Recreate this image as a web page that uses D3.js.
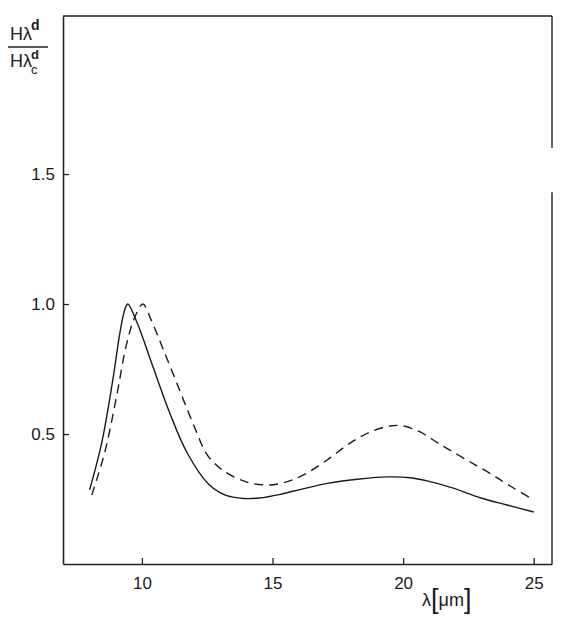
<!DOCTYPE html>
<html>
<head>
<meta charset="utf-8">
<script src="https://cdn.jsdelivr.net/npm/d3@7"></script>
<style>
  body { margin: 0; background: #fff; }
  text { font-family: "Liberation Sans", Arial, sans-serif; fill: #1a1a1a; }
</style>
</head>
<body>
<svg width="570" height="623"></svg>
<script>
var svg = d3.select('svg');

// solid curve
var solidX = [8.0, 8.47, 8.89, 9.16, 9.35, 9.46, 9.81, 10.42, 11.07, 11.72, 12.53, 13.2, 13.9, 14.5, 15.3, 16.2, 17.1, 18.35, 19.4, 20.27, 20.92, 21.92, 22.95, 23.98, 25.0];
var solidY = [0.285, 0.47, 0.71, 0.89, 0.98, 1.0, 0.93, 0.76, 0.58, 0.43, 0.31, 0.265, 0.252, 0.254, 0.268, 0.29, 0.31, 0.327, 0.335, 0.332, 0.32, 0.292, 0.255, 0.227, 0.2];
// dashed curve
var dashX = [8.08, 8.58, 9.04, 9.4, 9.73, 10.04, 10.35, 10.8, 11.4, 12.0, 12.5, 13.1, 14.02, 14.79, 15.4, 16.17, 17.09, 17.97, 18.74, 19.5, 20.0, 20.65, 21.42, 22.3, 23.22, 24.1, 25.0];
var dashY = [0.265, 0.43, 0.65, 0.84, 0.95, 1.0, 0.94, 0.83, 0.68, 0.53, 0.42, 0.36, 0.315, 0.304, 0.312, 0.342, 0.40, 0.465, 0.508, 0.531, 0.531, 0.508, 0.46, 0.408, 0.355, 0.30, 0.246];

var xTicks = [10, 15, 20, 25];
var yTicks = [0.5, 1.0, 1.5];

var margin = { top: 16, right: 18, bottom: 59, left: 63 };
var w = 570 - margin.left - margin.right;
var h = 623 - margin.top - margin.bottom;

var xScale = d3.scaleLinear().domain([6.98, 25.7]).range([0, w]);
var yScale = d3.scaleLinear().domain([0, 2.108]).range([h, 0]);

var g = svg.append('g')
    .attr('transform', 'translate(' + margin.left + ',' + margin.top + ')');

var xAxis = d3.axisBottom(xScale)
    .tickValues(xTicks)
    .tickSizeInner(-6)
    .tickSizeOuter(0)
    .tickPadding(8)
    .tickFormat(d3.format('d'));
var yAxis = d3.axisLeft(yScale)
    .tickValues(yTicks)
    .tickSizeInner(-6)
    .tickSizeOuter(0)
    .tickPadding(8)
    .tickFormat(d3.format('.1f'));

g.append('g')
    .attr('transform', 'translate(0,' + h + ')')
    .call(xAxis)
    .call(function (s) {
        s.select('.domain').attr('stroke', '#222').attr('stroke-width', 1.6);
        s.selectAll('.tick line').attr('stroke', '#222').attr('stroke-width', 1.3);
        s.selectAll('text').style('font-size', '17px').attr('dy', '1em');
    });

g.append('g')
    .call(yAxis)
    .call(function (s) {
        s.select('.domain').attr('stroke', '#222').attr('stroke-width', 1.6);
        s.selectAll('.tick line').attr('stroke', '#222').attr('stroke-width', 1.3);
        s.selectAll('text').style('font-size', '17px');
    });

// top border and right border (with a gap, as in the scan)
g.append('line')
    .attr('x1', 0).attr('x2', w).attr('y1', 0).attr('y2', 0)
    .attr('stroke', '#222').attr('stroke-width', 1.6);
g.append('line')
    .attr('x1', w).attr('x2', w).attr('y1', 0).attr('y2', yScale(1.6))
    .attr('stroke', '#222').attr('stroke-width', 1.4);
g.append('line')
    .attr('x1', w).attr('x2', w).attr('y1', yScale(1.43)).attr('y2', h)
    .attr('stroke', '#222').attr('stroke-width', 1.4);

var line = d3.line()
    .x(function (d) { return xScale(d[0]); })
    .y(function (d) { return yScale(d[1]); })
    .curve(d3.curveCatmullRom.alpha(0.5));

g.append('path')
    .datum(d3.zip(solidX, solidY))
    .attr('d', line)
    .attr('fill', 'none')
    .attr('stroke', '#1a1a1a')
    .attr('stroke-width', 1.4);

g.append('path')
    .datum(d3.zip(dashX, dashY))
    .attr('d', line)
    .attr('fill', 'none')
    .attr('stroke', '#1a1a1a')
    .attr('stroke-width', 1.4)
    .attr('stroke-dasharray', '9,6');

// x-axis label
var xl = svg.append('text')
    .attr('x', 422)
    .attr('y', 606)
    .style('font-size', '18px');
xl.append('tspan').text('λ');
xl.append('tspan').style('font-size', '27px').attr('dy', 2).text('[');
xl.append('tspan').attr('dy', -2).text('μm');
xl.append('tspan').style('font-size', '27px').attr('dy', 2).text(']');

// y-axis label (fraction)
var num = svg.append('text').attr('x', 10).attr('y', 40).style('font-size', '18px');
num.append('tspan').text('Hλ');
num.append('tspan').attr('dx', -1).attr('dy', -10).style('font-size', '14px').style('font-weight', 'bold').text('d');
svg.append('line')
    .attr('x1', 8).attr('x2', 48).attr('y1', 47).attr('y2', 47)
    .attr('stroke', '#222').attr('stroke-width', 1.4);
var den = svg.append('text').attr('x', 10).attr('y', 67).style('font-size', '18px');
den.append('tspan').text('Hλ');
den.append('tspan').attr('dx', -1).attr('dy', -8).style('font-size', '13px').style('font-weight', 'bold').text('d');
den.append('tspan').attr('dx', -8).attr('dy', 15).style('font-size', '13px').text('c');
</script>
</body>
</html>
